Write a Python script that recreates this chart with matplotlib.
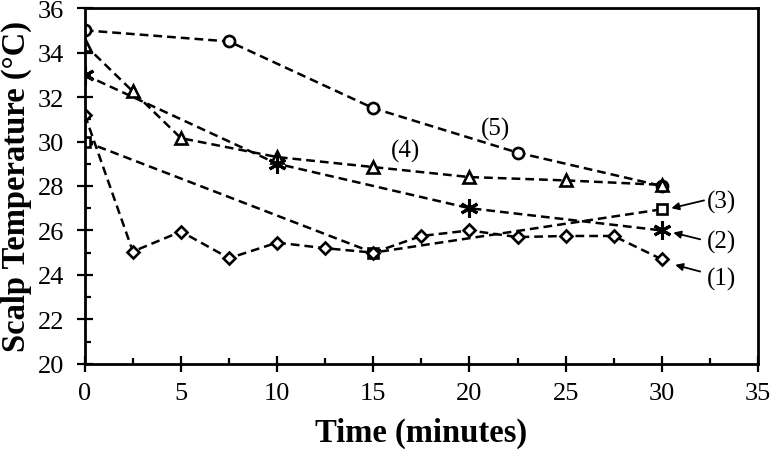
import numpy as np
import matplotlib
matplotlib.use("Agg")
import matplotlib.pyplot as plt

plt.rcParams['font.family'] = ['Liberation Serif', 'DejaVu Serif']

# data
t1 = [0, 2.5, 5, 7.5, 10, 12.5, 15, 17.5, 20, 22.5, 25, 27.5, 30]
y1 = [31.2, 25.05, 25.95, 24.75, 25.45, 25.2, 25.0, 25.75, 26.0, 25.7, 25.75, 25.75, 24.7]
t2 = [0, 10, 20, 30]
y2 = [33.0, 29.0, 27.0, 26.0]
t3 = [0, 15, 30]
y3 = [30.0, 25.0, 26.95]
t4 = [0, 2.5, 5, 10, 15, 20, 25, 30]
y4 = [34.35, 32.25, 30.15, 29.3, 28.85, 28.4, 28.25, 28.05]
t5 = [0, 7.5, 15, 22.5, 30]
y5 = [35.0, 34.5, 31.5, 29.5, 28.0]

fig = plt.figure(figsize=(7.71, 4.56), dpi=100)
ax = fig.add_axes([0.110, 0.200, 0.873, 0.780])

dash = (0, (3.5, 2))
kw = dict(color='black', linestyle=dash, linewidth=1.8, markersize=8,
          markerfacecolor='white', markeredgecolor='black', markeredgewidth=1.9)
ax.plot(t5, y5, marker='o', **kw)
ax.plot(t4, y4, marker='^', **kw)
# asterisk: x with a vertical bar
ax.plot(t2, y2, marker=(6, 2, 0), **dict(kw, markersize=13, markeredgewidth=2.2))
ax.plot(t3, y3, marker='s', **dict(kw, markersize=7.5))
ax.plot(t1, y1, marker='D', **dict(kw, markersize=6.5))

ax.set_xlim(0, 35)
ax.set_ylim(20, 36)
ax.set_xticks(np.arange(0, 36, 5))
ax.set_xticks(np.arange(2.5, 35, 5), minor=True)
ax.set_yticks(np.arange(20, 37, 2))
ax.set_yticks(np.arange(21, 36, 2), minor=True)
ax.tick_params(which='major', direction='inout', length=12, width=1.6, labelsize=19)
ax.tick_params(which='minor', direction='in', length=4.5, width=1.6)
ax.tick_params(axis='x', which='major', pad=7)
ax.tick_params(axis='y', which='major', pad=9)
for s in ax.spines.values():
    s.set_linewidth(2)

ax.set_xlabel('Time (minutes)', fontsize=23.5, fontweight='bold', labelpad=9)
ax.set_ylabel('Scalp Temperature (°C)', fontsize=23.5, fontweight='bold', labelpad=4)

ax.text(21.35, 30.6, '(5)', fontsize=18, ha='center', va='center')
ax.text(16.7, 29.6, '(4)', fontsize=18, ha='center', va='center')
labels = ['(3)', '(2)', '(1)']
label_y = [27.3, 25.5, 23.85]
tail = [(32.2, 27.35), (32.0, 25.6), (32.0, 24.15)]
head = [(30.5, 27.0), (30.6, 25.9), (30.7, 24.45)]
for lab, ly, tp, hp in zip(labels, label_y, tail, head):
    ax.text(33.1, ly, lab, fontsize=18, ha='center', va='center')
    ax.annotate('', xy=hp, xytext=tp,
                arrowprops=dict(arrowstyle='-|>', color='black', lw=1.3,
                                mutation_scale=11, shrinkA=0, shrinkB=0))

fig.savefig('out.png', dpi=100)
